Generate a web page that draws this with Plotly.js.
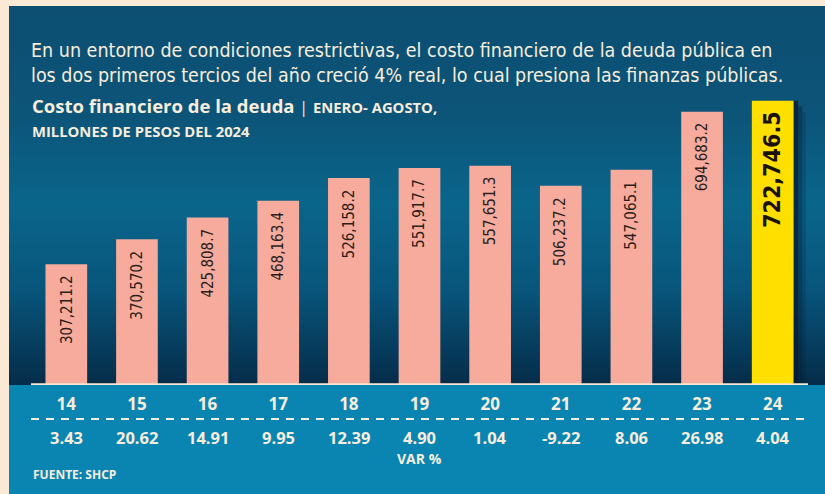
<!DOCTYPE html>
<html>
<head>
<meta charset="utf-8">
<script src="https://cdn.plot.ly/plotly-3.0.1.min.js"></script>
<style>
  html, body { margin:0; padding:0; background:#fbe9d6; }
  #wrap { position:relative; width:825px; height:494px; background:#fbe9d6; overflow:hidden; }
  #bgTop { position:absolute; left:9px; top:6px; width:816px; height:379px;
    background: linear-gradient(to bottom, #0c4f72 0%, #0c5478 28%, #0a658b 52%, #08557b 75%, #052c49 100%); }
  #bgBot { position:absolute; left:9px; top:385px; width:816px; height:109px; background:#0a85b1; }
  #chart { position:absolute; left:0; top:0; width:825px; height:494px; }
</style>
</head>
<body>
<div id="wrap">
  <div id="bgTop"></div>
  <div id="bgBot"></div>
  <div id="chart"></div>
</div>
<script>
const years = ['14','15','16','17','18','19','20','21','22','23','24'];
const costo = [307211.2, 370570.2, 425808.7, 468163.4, 526158.2, 551917.7, 557651.3, 506237.2, 547065.1, 694683.2, 722746.5];
const varPct = ['3.43','20.62','14.91','9.95','12.39','4.90','1.04','-9.22','8.06','26.98','4.04'];

const titleText = 'En un entorno de condiciones restrictivas, el costo financiero de la deuda pública en<br>los dos primeros tercios del año creció 4% real, lo cual presiona las finanzas públicas.';
const subtitle1 = '<b>Costo financiero de la deuda</b> <span style="font-size:16px">|</span> <span style="font-size:14.8px"><b>ENERO- AGOSTO,</b></span>';
const subtitle2 = '<b>MILLONES DE PESOS DEL 2024</b>';
const varLabel = '<b>VAR %</b>';
const source = '<b>FUENTE: SHCP</b>';

const W = 825, H = 494;
const L = 31, R = 808, T = 95, B = 385;
const px = v => (v - L) / (R - L);
const py = v => (B - v) / (B - T);

const cream = '#f7eddc';
const last = years.length - 1;
const barColors = years.map((y, i) => i === last ? '#ffdf00' : '#f6ab9c');

const fmt = v => v.toLocaleString('en-US', {minimumFractionDigits:1, maximumFractionDigits:1});
const narrow = '"Liberation Sans Narrow", "DejaVu Sans Condensed", sans-serif';
const geo = '"Open Sans", Lato, sans-serif';

const annotations = [];
years.forEach((y, i) => {
  const big = i === last;
  annotations.push({
    x: i, y: costo[i], xref:'x', yref:'y',
    text: big ? '<b>' + fmt(costo[i]) + '</b>' : fmt(costo[i]),
    textangle: -90, showarrow:false, xanchor:'center', yanchor:'top',
    yshift: big ? -8 : -9,
    font: {family: narrow, size: big ? 23 : 15, color: big ? '#1a1208' : '#2b1d1d'}
  });
  annotations.push({
    x: i, y: py(437), xref:'x', yref:'paper', text: '<b>' + varPct[i] + '</b>',
    showarrow:false, xanchor:'center', yanchor:'middle',
    font: {family: geo, size:16.5, color: cream}
  });
});
annotations.push({x:0.5, y:py(458), xref:'paper', yref:'paper', text: varLabel, showarrow:false,
  xanchor:'center', yanchor:'middle', font:{family:geo, size:14, color:cream}});
annotations.push({x:px(31), y:py(474), xref:'paper', yref:'paper', text: source, showarrow:false,
  xanchor:'left', yanchor:'middle', font:{family:geo, size:12, color:cream}});
annotations.push({x:px(30), y:py(106), xref:'paper', yref:'paper', text: subtitle1, showarrow:false,
  xanchor:'left', yanchor:'middle', font:{family:geo, size:18.5, color:cream}});
annotations.push({x:px(30), y:py(131), xref:'paper', yref:'paper', text: subtitle2, showarrow:false,
  xanchor:'left', yanchor:'middle', font:{family:geo, size:14.8, color:cream}});

const shapes = [
  {type:'line', xref:'paper', yref:'y', x0:0, x1:1, y0:0, y1:0, line:{color:'#fbe8d2', width:3.5}, layer:'above'},
  {type:'line', xref:'paper', yref:'paper', x0:0, x1:1, y0:py(419), y1:py(419), line:{color:cream, width:2, dash:'8px,7px'}},
  {type:'rect', xref:'x', yref:'y', x0:last+0.30, x1:last+0.36, y0:0, y1:costo[last], fillcolor:'#05182c', opacity:0.75, line:{width:0}, layer:'below'},
  {type:'rect', xref:'x', yref:'y', x0:last+0.36, x1:last+0.42, y0:0, y1:costo[last]*0.98, fillcolor:'#05182c', opacity:0.4, line:{width:0}, layer:'below'},
  {type:'rect', xref:'x', yref:'y', x0:last+0.42, x1:last+0.47, y0:0, y1:costo[last]*0.96, fillcolor:'#05182c', opacity:0.18, line:{width:0}, layer:'below'}
];

const trace = {
  type:'bar', x: years, y: costo, marker:{color: barColors, line:{width:0}},
  width: 0.59, hoverinfo:'skip'
};

const layout = {
  width: W, height: H,
  paper_bgcolor:'rgba(0,0,0,0)', plot_bgcolor:'rgba(0,0,0,0)',
  margin:{l:L, r:W-R, t:T, b:H-B, pad:0},
  showlegend:false,
  title:{text: titleText, x: 31/W, xanchor:'left', y: 1 - 57/H, yanchor:'middle', xref:'container', yref:'container',
    font:{family: narrow, size:19.5, color:cream}},
  xaxis:{type:'category', range:[-0.5, 10.5], showgrid:false, zeroline:false, showline:false, ticks:'',
    tickfont:{family: geo, size:17, color:cream}, ticklabelstandoff:7,
    tickprefix:'<b>', ticksuffix:'</b>', fixedrange:true},
  yaxis:{range:[0, 737200], visible:false, showgrid:false, zeroline:false, fixedrange:true},
  annotations: annotations,
  shapes: shapes,
  bargap: 0.41
};

Plotly.newPlot('chart', [trace], layout, {displayModeBar:false, staticPlot:true});
</script>
</body>
</html>
